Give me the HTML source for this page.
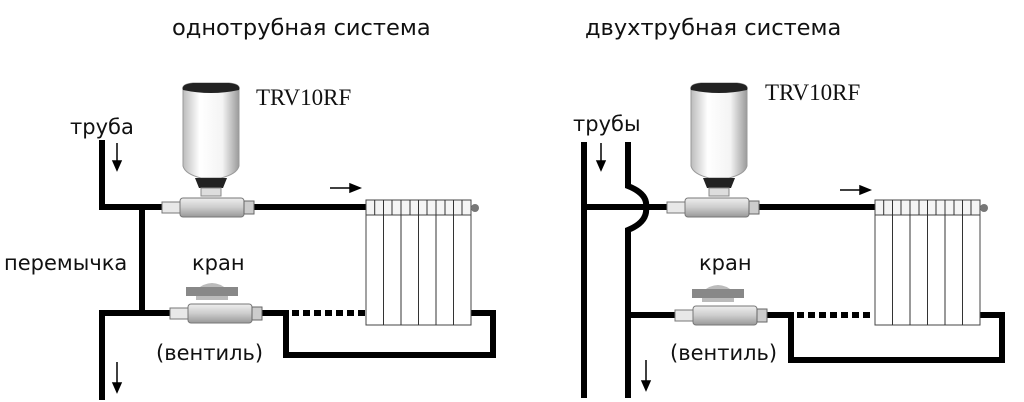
<!DOCTYPE html>
<html><head><meta charset="utf-8"><style>
body{margin:0;background:#fff}
svg{display:block}
.t{font-family:"DejaVu Sans","Liberation Sans",sans-serif;font-size:21px;fill:#111}
.h{font-family:"DejaVu Sans","Liberation Sans",sans-serif;font-size:22.5px;fill:#111}
.s{font-family:"Liberation Serif",serif;font-size:23px;fill:#111}
</style></head><body>
<svg width="1024" height="402" viewBox="0 0 1024 402" xmlns="http://www.w3.org/2000/svg">
<defs>
<linearGradient id="g1" x1="0" y1="0" x2="1" y2="0">
<stop offset="0" stop-color="#bbb"/><stop offset="0.3" stop-color="#fff"/><stop offset="0.7" stop-color="#f4f4f4"/><stop offset="1" stop-color="#999"/></linearGradient>
<linearGradient id="g2" x1="0" y1="0" x2="0" y2="1">
<stop offset="0" stop-color="#eee"/><stop offset="0.5" stop-color="#ccc"/><stop offset="1" stop-color="#999"/></linearGradient>
<g id="th">
<path d="M2 8 Q0 2 12 1 L48 1 Q60 2 58 8 L58 84 Q56 92 40 96 L20 96 Q4 92 2 84 Z" fill="url(#g1)" stroke="#999"/>
<path d="M2 8 Q0 2 12 1 L48 1 Q60 2 58 8 Q30 14 2 8 Z" fill="#222"/>
<path d="M14 96 L46 96 L42 106 L18 106 Z" fill="#222"/>
<rect x="20" y="106" width="20" height="8" fill="#ddd" stroke="#888"/>
</g>
<g id="fit">
<rect x="0" y="-5" width="22" height="11" fill="#e8e8e8" stroke="#777"/>
<rect x="18" y="-9" width="64" height="19" rx="3" fill="url(#g2)" stroke="#777"/>
<rect x="82" y="-6" width="10" height="13" fill="#ccc" stroke="#666"/>
</g>
<g id="rad">
<rect x="0" y="0" width="105" height="125" fill="#fff" stroke="#444"/>
<rect x="0" y="0" width="105" height="15" fill="#f4f4f4" stroke="#444"/>
<path d="M17.5 0V125M35 0V125M52.5 0V125M70 0V125M87.5 0V125M8.7 0V15M26 0V15M44 0V15M61 0V15M79 0V15M96 0V15" stroke="#333" fill="none"/>
<circle cx="109" cy="8" r="4" fill="#777"/>
</g>
</defs>
<text class="h" x="172" y="35">однотрубная система</text>
<text class="h" x="585" y="35">двухтрубная система</text>

<g stroke="#000" stroke-width="6" fill="none">
<path d="M102 140 V207 H165"/>
<path d="M142 207 V313"/>
<path d="M102 400 V313 H170"/>
<path d="M254 207 H367"/>
<path d="M262 313 H286 V355 H493 V313 H470"/>
<path d="M292 313 H366" stroke-dasharray="7 4"/>
</g>
<use href="#th" x="181" y="82"/>
<use href="#fit" x="162" y="207"/>
<use href="#fit" x="170" y="313"/>
<path d="M196 300 L196 290 Q212 276 228 290 L228 300 Z" fill="#bbb"/>
<rect x="186" y="287" width="52" height="9" fill="#888"/>
<use href="#rad" x="366" y="200"/>
<g stroke="#000" stroke-width="1.5" fill="#000">
<path d="M117 143V165"/><path d="M113 161L117 170L121 161Z"/>
<path d="M117 362V387"/><path d="M113 383L117 392L121 383Z"/>
<path d="M330 188H353"/><path d="M350 184L360 188L350 192Z"/>
</g>
<text class="s" x="256" y="105">TRV10RF</text>
<text class="t" x="70" y="134">труба</text>
<text class="t" x="4" y="270">перемычка</text>
<text class="t" x="192" y="270">кран</text>
<text class="t" x="156" y="360">(вентиль)</text>

<g stroke="#000" stroke-width="6" fill="none">
<path d="M584 142 V398"/>
<path d="M628 142 V186 Q648 194 646 207 Q648 222 628 230 V398"/>
<path d="M584 207 H670"/>
<path d="M758 207 H876"/>
<path d="M628 315 H676"/>
<path d="M766 315 H791 V360 H1002 V315 H978"/>
<path d="M797 315 H874" stroke-dasharray="7 4"/>
</g>
<use href="#th" x="689" y="82"/>
<use href="#fit" x="667" y="207"/>
<use href="#fit" x="675" y="315"/>
<path d="M702 302 L702 292 Q718 278 734 292 L734 302 Z" fill="#bbb"/>
<rect x="692" y="289" width="52" height="9" fill="#888"/>
<use href="#rad" x="875" y="200"/>
<g stroke="#000" stroke-width="1.5" fill="#000">
<path d="M601 143V165"/><path d="M597 161L601 170L605 161Z"/>
<path d="M646 360V385"/><path d="M642 381L646 390L650 381Z"/>
<path d="M840 190H863"/><path d="M860 186L870 190L860 194Z"/>
</g>
<text class="s" x="765" y="100">TRV10RF</text>
<text class="t" x="573" y="131">трубы</text>
<text class="t" x="699" y="270">кран</text>
<text class="t" x="670" y="360">(вентиль)</text>
</svg>
</body></html>
